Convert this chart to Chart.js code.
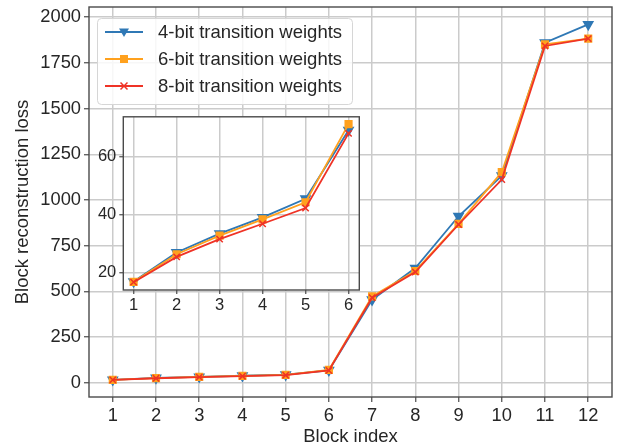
<!DOCTYPE html>
<html>
<head>
<meta charset="utf-8">
<script src="https://cdn.jsdelivr.net/npm/chart.js@4.4.0/dist/chart.umd.min.js"></script>
<style>
  body { margin: 0; background: #fff; }
  #wrap { position: relative; width: 626px; height: 448px; }
  #main { position: absolute; left: 0; top: 0; }
  #inset { position: absolute; left: 90px; top: 110px; }
</style>
</head>
<body>
<div id="wrap">
  <canvas id="main" width="626" height="448" style="width:626px;height:448px"></canvas>
  <canvas id="inset" width="280" height="210" style="width:280px;height:210px"></canvas>
</div>
<script>
// block index on x, loss on y
let blocks = [1, 2, 3, 4, 5, 6, 7, 8, 9, 10, 11, 12];
let bit4 = [17.0, 27.0, 33.5, 39.1, 45.5, 69.1, 455, 628, 911, 1133, 1860, 1960];
let bit6 = [16.9, 26.4, 32.8, 38.4, 44.3, 71.2, 473, 612, 869, 1152, 1851, 1882];
let bit8 = [16.8, 25.5, 31.6, 36.9, 42.3, 68.0, 466, 606, 866, 1112, 1842, 1882];
let seriesNames = ["4-bit transition weights", "6-bit transition weights", "8-bit transition weights"];

let yTicks = [0, 250, 500, 750, 1000, 1250, 1500, 1750, 2000];
let insetBlocks = [1, 2, 3, 4, 5, 6];
let insetYTicks = [20, 40, 60];

const FONT = "'Liberation Sans', Arial, sans-serif";
const BLUE = "#2f78b5";
const ORANGE = "#ffa11e";
const RED = "#ef3326";
const GRID = "#cbcbcb";
const SPINE = "#4a4a4a";

function toPoints(xs, ys) {
    let pts = [];
    for (let i = 0; i < xs.length; i++) {
        pts.push({x: xs[i], y: ys[i]});
    }
    return pts;
}

function makeDatasets(xs, n) {
    return [
        {label: seriesNames[0], data: toPoints(xs, bit4.slice(0, n)), borderColor: BLUE, backgroundColor: BLUE,
         pointStyle: 'triangle', rotation: 180, pointRadius: 5, order: 3},
        {label: seriesNames[1], data: toPoints(xs, bit6.slice(0, n)), borderColor: ORANGE, backgroundColor: ORANGE,
         pointStyle: 'rect', pointRadius: 4.5, order: 2},
        {label: seriesNames[2], data: toPoints(xs, bit8.slice(0, n)), borderColor: RED, backgroundColor: RED,
         pointStyle: 'crossRot', pointRadius: 4.5, pointBorderWidth: 1.5, order: 1}
    ].map(d => Object.assign({borderWidth: 1.8, pointBorderColor: d.borderColor, pointBackgroundColor: d.backgroundColor}, d));
}

// white background inside plot + frame on top
const framePlugin = {
    id: 'frame',
    beforeDraw(chart) {
        let a = chart.chartArea, c = chart.ctx;
        c.save();
        c.fillStyle = '#fff';
        c.fillRect(a.left, a.top, a.right - a.left, a.bottom - a.top);
        c.restore();
    },
    afterDraw(chart) {
        let a = chart.chartArea, c = chart.ctx;
        c.save();
        c.strokeStyle = SPINE;
        c.lineWidth = 1.4;
        c.strokeRect(a.left, a.top, a.right - a.left, a.bottom - a.top);
        c.restore();
    }
};

function drawMarker(c, style, x, y, color) {
    c.save();
    c.fillStyle = color;
    c.strokeStyle = color;
    c.beginPath();
    if (style === 'triangle') {
        c.moveTo(x - 5, y - 3.5);
        c.lineTo(x + 5, y - 3.5);
        c.lineTo(x, y + 5);
        c.closePath();
        c.fill();
    } else if (style === 'rect') {
        c.fillRect(x - 4, y - 4, 8, 8);
    } else {
        c.lineWidth = 1.5;
        c.moveTo(x - 3.5, y - 3.5); c.lineTo(x + 3.5, y + 3.5);
        c.moveTo(x + 3.5, y - 3.5); c.lineTo(x - 3.5, y + 3.5);
        c.stroke();
    }
    c.restore();
}

// matplotlib-like legend inside the plot
const legendPlugin = {
    id: 'mplLegend',
    afterDraw(chart) {
        let c = chart.ctx;
        let bx = 97, by = 18, bw = 255, bh = 86;
        c.save();
        c.fillStyle = 'rgba(255,255,255,0.85)';
        c.strokeStyle = '#d6d6d6';
        c.lineWidth = 1;
        c.beginPath();
        c.roundRect(bx + 0.5, by + 0.5, bw, bh, 4);
        c.fill();
        c.stroke();
        c.font = "18.5px " + FONT;
        c.textBaseline = 'middle';
        chart.data.datasets.forEach((d, i) => {
            let yy = 32 + i * 27;
            c.strokeStyle = d.borderColor;
            c.lineWidth = 1.8;
            c.beginPath();
            c.moveTo(105, yy);
            c.lineTo(143, yy);
            c.stroke();
            drawMarker(c, d.pointStyle, 124, yy, d.borderColor);
            c.fillStyle = '#262626';
            c.fillText(d.label, 158, yy + 1);
        });
        c.restore();
    }
};

function fixTicks(list) {
    return function (scale) {
        scale.ticks = list.map(v => ({value: v}));
    };
}

// fixed axis sizes, no extra label overflow padding
function fitX(h) {
    return function (s) { s.height = h; s.paddingLeft = 0; s.paddingRight = 0; };
}
function fitY(w) {
    return function (s) { s.width = w; s.paddingTop = 0; s.paddingBottom = 0; };
}

const plain = v => String(v);

new Chart(document.getElementById('main'), {
    type: 'line',
    data: {datasets: makeDatasets(blocks, blocks.length)},
    options: {
        responsive: false,
        animation: false,
        devicePixelRatio: 1,
        layout: {padding: {top: 7, right: 14, left: 0, bottom: 0}},
        plugins: {legend: {display: false}, tooltip: {enabled: false}},
        scales: {
            x: {
                type: 'linear', min: 0.45, max: 12.55,
                afterBuildTicks: fixTicks(blocks),
                afterFit: fitX(51),
                grid: {color: GRID, lineWidth: 1.5, tickLength: 5, tickColor: SPINE, tickWidth: 1.2},
                border: {display: false},
                ticks: {font: {family: FONT, size: 18.3}, color: '#262626', padding: 3, maxRotation: 0, autoSkip: false, callback: plain},
                title: {display: true, text: 'Block index', font: {family: FONT, size: 18.5}, color: '#262626', padding: {top: 0, bottom: 0}}
            },
            y: {
                type: 'linear', min: -77, max: 2055,
                afterBuildTicks: fixTicks(yTicks),
                afterFit: fitY(89),
                grid: {color: GRID, lineWidth: 1.5, tickLength: 5, tickColor: SPINE, tickWidth: 1.2},
                border: {display: false},
                ticks: {font: {family: FONT, size: 18.3}, color: '#262626', padding: 3, callback: plain},
                title: {display: true, text: 'Block reconstruction loss', font: {family: FONT, size: 18.5}, color: '#262626', padding: {top: 12, bottom: 4}}
            }
        }
    },
    plugins: [framePlugin, legendPlugin]
});

new Chart(document.getElementById('inset'), {
    type: 'line',
    data: {datasets: makeDatasets(insetBlocks, insetBlocks.length)},
    options: {
        responsive: false,
        animation: false,
        devicePixelRatio: 1,
        layout: {padding: {top: 6, right: 10.7, left: 0, bottom: 0}},
        plugins: {legend: {display: false}, tooltip: {enabled: false}},
        scales: {
            x: {
                type: 'linear', min: 0.76, max: 6.25,
                afterBuildTicks: fixTicks(insetBlocks),
                afterFit: fitX(30),
                grid: {color: GRID, lineWidth: 1.5, tickLength: 4, tickColor: SPINE, tickWidth: 1.2},
                border: {display: false},
                ticks: {font: {family: FONT, size: 16.5}, color: '#262626', padding: 2, maxRotation: 0, autoSkip: false, callback: plain}
            },
            y: {
                type: 'linear', min: 14.1, max: 73.7,
                afterBuildTicks: fixTicks(insetYTicks),
                afterFit: fitY(33.3),
                grid: {color: GRID, lineWidth: 1.5, tickLength: 4, tickColor: SPINE, tickWidth: 1.2},
                border: {display: false},
                ticks: {font: {family: FONT, size: 16.5}, color: '#262626', padding: 3, callback: plain}
            }
        }
    },
    plugins: [framePlugin]
});
</script>
</body>
</html>
